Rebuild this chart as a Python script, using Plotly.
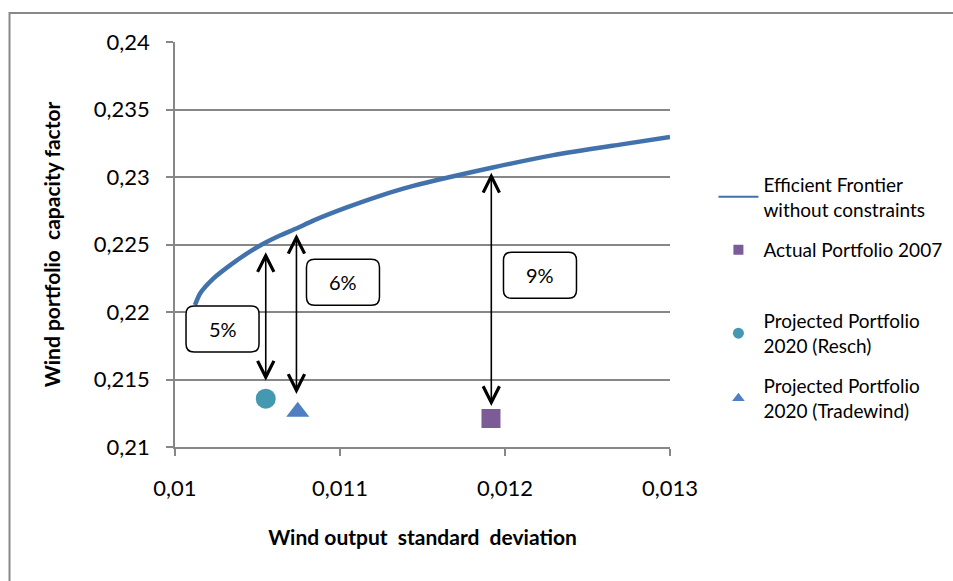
import plotly.graph_objects as go

# ---------------- data ----------------
frontier_x = [0.010121, 0.010152, 0.010232, 0.010333, 0.010435, 0.010535, 0.010636,
              0.010738, 0.010838, 0.011041, 0.011242, 0.011444, 0.011919,
              0.012293, 0.012697, 0.013]
frontier_y = [0.220515, 0.221375, 0.222478, 0.223456, 0.224316, 0.225051, 0.225662,
              0.226199, 0.226765, 0.227743, 0.228603, 0.229338, 0.230684,
              0.23162, 0.23240, 0.23296]

actual_2007 = (0.011915, 0.21211)
resch_2020 = (0.01055, 0.21358)
tradewind_2020 = (0.010744, 0.21261)

series_names = ["Efficient Frontier<br>without constraints", "Actual Portfolio 2007",
                "Projected Portfolio<br>2020 (Resch)", "Projected Portfolio<br>2020 (Tradewind)"]

arrow_x = [0.01055, 0.010736, 0.011917]
arrow_top = [0.224434, 0.225787, 0.230316]
arrow_bottom = [0.214801, 0.213824, 0.212919]
gap_labels = ["5%", "6%", "9%"]
label_x = [0.010288, 0.011018, 0.012212]
label_y = [0.21875, 0.222206, 0.222721]

x_ticks = [0.01, 0.011, 0.012, 0.013]
x_tick_labels = ["0,01", "0,011", "0,012", "0,013"]
y_ticks = [0.21, 0.215, 0.22, 0.225, 0.23, 0.235, 0.24]
y_tick_labels = ["0,21", "0,215", "0,22", "0,225", "0,23", "0,235", "0,24"]

# ---------------- style ----------------
FONT = "Lato"
GRID = "#878787"
LINE_C = "#4272AC"
SQ_C = "#7B5C97"
CIRC_C = "#4499B0"
TRI_C = "#4F7FC0"

fig = go.Figure()

# real marks (no legend)
fig.add_trace(go.Scatter(x=frontier_x, y=frontier_y, mode="lines",
                         line=dict(color=LINE_C, width=4.5, shape="spline", smoothing=0.6),
                         showlegend=False, hoverinfo="skip"))
fig.add_trace(go.Scatter(x=[actual_2007[0]], y=[actual_2007[1]], mode="markers",
                         marker=dict(symbol="square", size=19, color=SQ_C),
                         showlegend=False))
fig.add_trace(go.Scatter(x=[resch_2020[0]], y=[resch_2020[1]], mode="markers",
                         marker=dict(symbol="circle", size=20, color=CIRC_C),
                         showlegend=False))
fig.add_trace(go.Scatter(x=[tradewind_2020[0]], y=[tradewind_2020[1]], mode="markers",
                         marker=dict(symbol="triangle-up", size=20, color=TRI_C),
                         showlegend=False))

# legend-only items, each in its own legend box so spacing matches the original
fig.add_trace(go.Scatter(x=[None], y=[None], mode="lines", name=series_names[0],
                         line=dict(color=LINE_C, width=2), legend="legend"))
fig.add_trace(go.Scatter(x=[None], y=[None], mode="markers", name=series_names[1],
                         marker=dict(symbol="square", size=10, color=SQ_C), legend="legend2"))
fig.add_trace(go.Scatter(x=[None], y=[None], mode="markers", name=series_names[2],
                         marker=dict(symbol="circle", size=11, color=CIRC_C), legend="legend3"))
fig.add_trace(go.Scatter(x=[None], y=[None], mode="markers", name=series_names[3],
                         marker=dict(symbol="triangle-up", size=11, color=TRI_C), legend="legend4"))

annotations = []
shapes = []
# double-headed arrows
for xa, yt, yb in zip(arrow_x, arrow_top, arrow_bottom):
    annotations.append(dict(x=xa, y=yt, ax=xa, ay=yb, xref="x", yref="y",
                            axref="x", ayref="y", text="", showarrow=True,
                            arrowside="end+start", arrowhead=5, startarrowhead=5,
                            arrowsize=2.0, startarrowsize=2.0, arrowwidth=1.6,
                            arrowcolor="black", standoff=0, startstandoff=0))

# rounded label boxes
w, h, r = 36.5, 23, 8
box_path = (f"M {-w + r},{-h} L {w - r},{-h} Q {w},{-h} {w},{-h + r} "
            f"L {w},{h - r} Q {w},{h} {w - r},{h} L {-w + r},{h} "
            f"Q {-w},{h} {-w},{h - r} L {-w},{-h + r} Q {-w},{-h} {-w + r},{-h} Z")
for lx, ly, lab in zip(label_x, label_y, gap_labels):
    shapes.append(dict(type="path", xref="x", yref="y", xsizemode="pixel",
                       ysizemode="pixel", xanchor=lx, yanchor=ly, path=box_path,
                       line=dict(color="black", width=1.5), fillcolor="white",
                       layer="above"))
    annotations.append(dict(x=lx, y=ly, xref="x", yref="y", text=lab, showarrow=False,
                            font=dict(family=FONT, size=20, color="black")))

# outer chart border (left & top visible)
shapes.append(dict(type="rect", xref="paper", yref="paper",
                   x0=-0.3343, x1=1.6, y0=-0.4, y1=1.0716,
                   line=dict(color="#888888", width=2), layer="below"))

leg_common = dict(x=0.7486, xref="container", yref="container",
                  xanchor="left", yanchor="middle",
                  font=dict(family=FONT, size=19, color="black"),
                  bgcolor="rgba(0,0,0,0)", itemwidth=40)

fig.update_layout(
    width=953, height=581,
    margin=dict(l=175, r=283, t=42, b=134, autoexpand=False),
    paper_bgcolor="white", plot_bgcolor="white",
    font=dict(family=FONT, color="black"),
    showlegend=True,
    legend=dict(y=0.6608, **leg_common),
    legend2=dict(y=0.5697, **leg_common),
    legend3=dict(y=0.4260, **leg_common),
    legend4=dict(y=0.3141, **leg_common),
    xaxis=dict(range=[0.01, 0.013], tickvals=x_ticks, ticktext=x_tick_labels,
               showgrid=False, zeroline=False, showline=True, linecolor=GRID, linewidth=1.5,
               ticks="outside", ticklen=7, tickcolor=GRID, tickwidth=1.5,
               ticklabelstandoff=14, automargin=False,
               tickfont=dict(family=FONT, size=22, color="black"),
               title=dict(text="<b>Wind output  standard  deviation</b>",
                          font=dict(family=FONT, size=21, color="black"), standoff=30)),
    yaxis=dict(range=[0.21, 0.24], tickvals=y_ticks, ticktext=y_tick_labels,
               showgrid=True, gridcolor=GRID, gridwidth=1.5, zeroline=False,
               showline=True, linecolor=GRID, linewidth=1.5,
               ticks="outside", ticklen=7, tickcolor=GRID, tickwidth=1.5,
               ticklabelstandoff=12, automargin=False,
               tickfont=dict(family=FONT, size=22, color="black"),
               title=dict(text="<b>Wind portfolio  capacity factor</b>",
                          font=dict(family=FONT, size=21, color="black"), standoff=27)),
    annotations=annotations,
    shapes=shapes,
)

fig.write_html("out.html", config={"displayModeBar": False},
               post_script="document.body.style.margin='0';")
